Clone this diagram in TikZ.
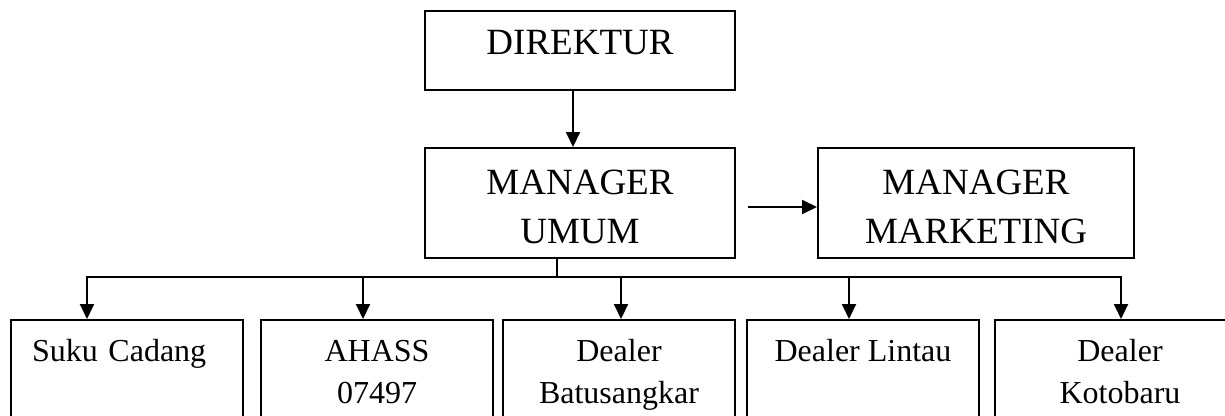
\documentclass[tikz,border=0pt]{standalone}
\usepackage{fontspec}
\setmainfont{Liberation Serif}
\usepackage{tikz}
\usetikzlibrary{arrows.meta}
\usetikzlibrary{calc,positioning}

\tikzset{
  headbox/.style={draw, line width=2pt, inner sep=0pt, minimum width=310pt, align=center,
    text height=95pt, text depth=15pt, font=\fontsize{37}{49}\selectfont},
  unitbox/.style={draw, line width=2pt, inner sep=0pt, minimum width=232pt, align=center,
    text height=41pt, text depth=110pt, font=\fontsize{32}{42}\selectfont},
  twoline/.style={text height=83pt, text depth=68pt},
  link/.style={line width=2pt},
  linkarrow/.style={line width=2pt, -{Triangle[width=14pt,length=15pt]}},
}

\begin{document}
\begin{tikzpicture}[x=1pt, y=-1pt]
\useasboundingbox (0,0) rectangle (1225,415);
\clip (0,0) rectangle (1225,415);
%%%%%%%%%%%%%%%%%%%%%%%%%%%%
%%%%%%%%% Top. %%%%%%%%%%%%%
%%%%%%%%%%%%%%%%%%%%%%%%%%%%
\node[headbox, text height=43pt, text depth=36pt] (direktur) at (580,50.5) {DIREKTUR};
\node[headbox, below=56pt of direktur] (umum) {MANAGER\\UMUM};
\node[headbox, minimum width=316pt, right=81pt of umum] (marketing) {MANAGER\\MARKETING};
\draw[linkarrow] ([xshift=-7pt]direktur.south) -- ([xshift=-7pt]umum.north);
\draw[linkarrow] ([xshift=12pt,yshift=-4pt]umum.east) -- ([yshift=-4pt]marketing.west);
%%%%%%%%%%%%%%%%%%%%%%%%%%%%
%%%%%%%%% Units. %%%%%%%%%%%
%%%%%%%%%%%%%%%%%%%%%%%%%%%%
\node[unitbox, align=left, text width=190pt, anchor=north] (suku) at (127,319) {Suku Cadang};
\node[unitbox, twoline, right=16pt of suku] (ahass) {AHASS\\07497};
\node[unitbox, twoline, right=8pt of ahass] (batusangkar) {Dealer\\Batusangkar};
\node[unitbox, right=10pt of batusangkar] (lintau) {Dealer Lintau};
\node[unitbox, twoline, minimum width=250pt, right=14pt of lintau] (kotobaru) {Dealer\\Kotobaru};
% branch points on the bar
\coordinate (split) at (557,277);
\coordinate (t1) at (87,277);
\coordinate (t2) at (363,277);
\coordinate (t3) at (621,277);
\coordinate (t4) at (849,277);
\coordinate (t5) at (1121,277);
\draw[link] (umum.south -| split) -- (split);
\draw[link] ([xshift=-1pt]t1) -- ([xshift=1pt]t5);
\draw[linkarrow] (t1) -- (t1 |- suku.north);
\draw[linkarrow] (t2) -- (t2 |- ahass.north);
\draw[linkarrow] (t3) -- (t3 |- batusangkar.north);
\draw[linkarrow] (t4) -- (t4 |- lintau.north);
\draw[linkarrow] (t5) -- (t5 |- kotobaru.north);
\end{tikzpicture}
\end{document}
